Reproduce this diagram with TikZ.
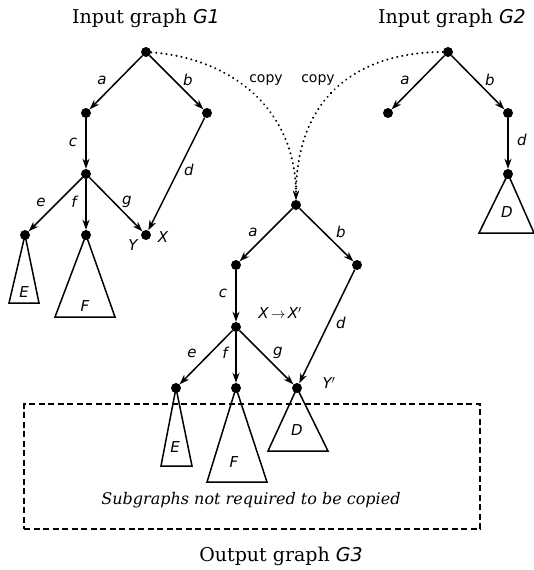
\documentclass[tikz,border=0pt]{standalone}
\usepackage{fontspec}
\setmainfont{DejaVu Serif}
\setsansfont{DejaVu Sans}
\usetikzlibrary{arrows.meta}
\tikzset{
  dot/.style={circle,fill=black,inner sep=0pt,minimum size=10pt},
  edge/.style={line width=1.5pt,-{Stealth[length=10pt,width=7pt,inset=3pt]},shorten >=0pt},
  copyarc/.style={line width=2.2pt,line cap=round,dash pattern=on 0.1pt off 5pt,-{Stealth[length=9pt,width=6pt,inset=3pt,line cap=butt,sep=0pt]}},
  tri/.style={line width=1.5pt,line join=miter},
  lbl/.style={font=\fontsize{15}{15}\sffamily\itshape,inner sep=0pt},
  cpy/.style={font=\fontsize{14}{14}\sffamily,inner sep=0pt},
  ttl/.style={font=\fontsize{19}{19}\selectfont,inner sep=0pt},
}
\begin{document}
\begin{tikzpicture}[x=1pt,y=-1pt]
\useasboundingbox (0,0) rectangle (534,570);
% titles
\node[ttl] (t1) at (146,18) {Input graph {\sffamily\itshape G1}};
\node[ttl] (t2) at (452,18) {Input graph {\sffamily\itshape G2}};
\node[ttl] (t3) at (281,556) {Output graph {\sffamily\itshape G3}};
% G1
\node[dot] (r1) at (146,52) {};
\node[dot] (a1) at (86,113) {};
\node[dot] (b1) at (207,113) {};
\node[dot] (c1) at (86,174) {};
\node[dot] (e1) at (25,235) {};
\node[dot] (f1) at (86,235) {};
\node[dot] (x1) at (146,235) {};
\draw[edge] (r1) -- (a1);
\draw[edge] (r1) -- (b1);
\draw[edge] (a1) -- (c1);
\draw[edge] (c1) -- (e1);
\draw[edge] (c1) -- (f1);
\draw[edge] (c1) -- (x1);
\draw[edge] (b1) -- (x1);
\draw[tri] (e1.center) -- (9,303) -- (39,303) -- cycle;
\draw[tri] (f1.center) -- (55,317) -- (115,317) -- cycle;
\node[lbl] (la1) at (102,80) {a};
\node[lbl] (lb1) at (188,80) {b};
\node[lbl] (lc1) at (73,142) {c};
\node[lbl] (ld1) at (189,170) {d};
\node[lbl] (le1) at (41,202) {e};
\node[lbl] (lf1) at (74,202) {f};
\node[lbl] (lg1) at (127,202) {g};
\node[lbl] (lX1) at (163,237) {X};
\node[lbl] (lY1) at (133,245) {Y};
\node[lbl] (lE1) at (24,292) {E};
\node[lbl] (lF1) at (85,306) {F};
% G2
\node[dot] (r2) at (448,52) {};
\node[dot] (a2) at (388,113) {};
\node[dot] (b2) at (508,113) {};
\node[dot] (d2) at (508,174) {};
\draw[edge] (r2) -- (a2);
\draw[edge] (r2) -- (b2);
\draw[edge] (b2) -- (d2);
\draw[tri] (d2.center) -- (479,233) -- (534,233) -- cycle;
\node[lbl] (la2) at (405,80) {a};
\node[lbl] (lb2) at (490,80) {b};
\node[lbl] (ld2) at (522,140) {d};
\node[lbl] (lD2) at (507,212) {D};
% G3
\node[dot] (r3) at (296,205) {};
\node[dot] (a3) at (236,265) {};
\node[dot] (b3) at (357,265) {};
\node[dot] (c3) at (236,327) {};
\node[dot] (e3) at (176,388) {};
\node[dot] (f3) at (236,388) {};
\node[dot] (y3) at (297,388) {};
\draw[edge] (r3) -- (a3);
\draw[edge] (r3) -- (b3);
\draw[edge] (a3) -- (c3);
\draw[edge] (c3) -- (e3);
\draw[edge] (c3) -- (f3);
\draw[edge] (c3) -- (y3);
\draw[edge] (b3) -- (y3);
\draw[tri] (e3.center) -- (161,466) -- (192,466) -- cycle;
\draw[tri] (f3.center) -- (207,482) -- (267,482) -- cycle;
\draw[tri] (y3.center) -- (268,451) -- (328,451) -- cycle;
\node[lbl] (la3) at (253,232) {a};
\node[lbl] (lb3) at (341,232) {b};
\node[lbl] (lc3) at (223,293) {c};
\node[lbl] (ld3) at (341,323) {d};
\node[lbl] (le3) at (192,353) {e};
\node[lbl] (lf3) at (225,353) {f};
\node[lbl] (lg3) at (278,353) {g};
\node[lbl] (lXX) at (280,313) {X\,{\upshape$\to$}\,X$'$};
\node[lbl] (lY3) at (329,383) {Y$'$};
\node[lbl] (lE3) at (175,447) {E};
\node[lbl] (lF3) at (234,462) {F};
\node[lbl] (lD3) at (297,430) {D};
% dashed box
\node[draw,line width=1.4pt,minimum width=456pt,minimum height=125pt,inner sep=0pt,
  dash pattern=on 6pt off 3.5pt] (box) at (252,466.5) {};
\node[font=\fontsize{16}{16}\selectfont\itshape,inner sep=0pt] (sub) at (251,500) {Subgraphs not required to be copied};
% copy arcs
\draw[copyarc] (r1) .. controls (230,58) and (296,108) .. (r3);
\draw[copyarc] (r2) .. controls (360,52) and (296,95) .. (r3);
\node[cpy] (cp1) at (266,80) {copy};
\node[cpy] (cp2) at (318,80) {copy};
\end{tikzpicture}
\end{document}
